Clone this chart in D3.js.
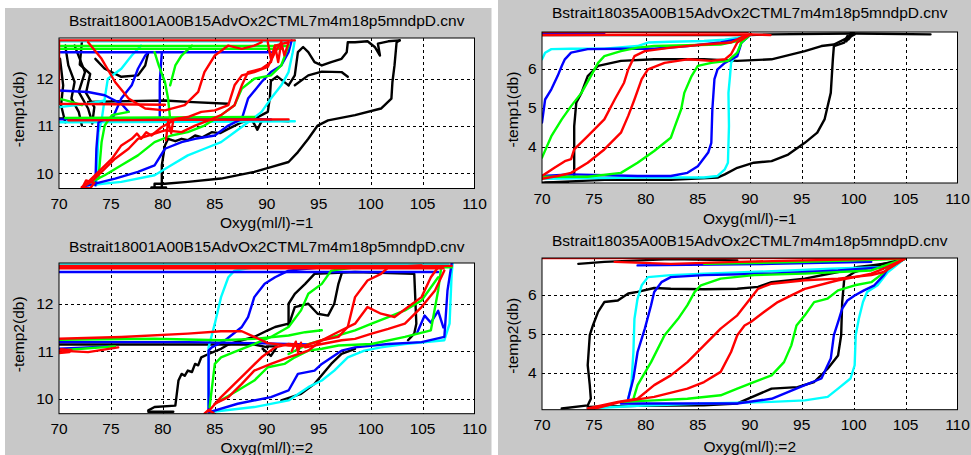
<!DOCTYPE html>
<html>
<head>
<meta charset="utf-8">
<script src="https://cdn.jsdelivr.net/npm/d3@7"></script>
<style>
  body { margin: 0; background: #fff; }
  svg text { font-family: "Liberation Sans", Arial, sans-serif; font-size: 15.5px; fill: #000; }
</style>
</head>
<body>
<svg id="chart" width="971" height="455"></svg>
<script>
// ---- axis ticks and labels ----
const oxyTicks = [70, 75, 80, 85, 90, 95, 100, 105, 110];
const tempTicks18001 = [10, 11, 12];
const tempTicks18035 = [4, 5, 6];
const castTitles = ["Bstrait18001A00B15AdvOx2CTML7m4m18p5mndpD.cnv",
                    "Bstrait18035A00B15AdvOx2CTML7m4m18p5mndpD.cnv"];
const oxyLabels = ["Oxyg(ml/l)-=1", "Oxyg(ml/l):=2"];
const tempLabels = ["-temp1(db)", "-temp2(db)"];

// ---- profiles: [series colour code, [[oxygen, -temp], ...]] ----
// cast 18001, sensor pair 1
const profiles18001s1 = [
  ['k', [[70.6,12.70],[70.9,12.28],[71.5,11.93],[71.2,11.58],[71.9,11.30],[72.2,11.01]]],
  ['k', [[71.5,12.70],[72.5,12.14],[71.9,11.72],[72.8,11.37],[73.1,11.15]]],
  ['k', [[70.1,12.42],[70.4,11.86],[70.2,11.44],[70.6,11.08]]],
  ['k', [[72.2,12.77],[72.0,12.30],[73.0,12.10],[72.6,11.70],[73.4,11.40],[73.2,11.05]]],
  ['k', [[70.0,11.16],[79.2,11.16],[88.8,11.15],[92.1,11.10]]],
  ['k', [[72.8,11.51],[80.2,11.54],[82.4,11.51],[86.3,11.47]]],
  ['k', [[73.5,12.42],[74.4,12.21],[76.0,12.04],[77.6,12.07],[78.3,12.28],[78.6,12.56]]],
  ['k', [[79.2,9.71],[79.2,9.78],[80.2,9.78],[82.4,9.82],[85.6,9.89],[88.8,10.03],[90.4,10.13],[92.1,10.24],[93.0,10.45],[94.0,10.73],[94.9,11.01],[95.9,11.12],[98.5,11.23],[101.0,11.37],[102.0,11.58],[102.1,11.93],[102.3,12.28],[102.5,12.77],[102.8,12.81]]],
  ['k', [[79.9,9.68],[79.9,10.17],[80.2,10.59],[80.5,10.73],[81.2,10.68],[81.8,10.73],[82.4,10.70],[83.1,10.80],[83.8,10.76],[84.7,10.87],[85.5,10.85],[86.3,10.94],[87.6,11.08],[88.8,11.15],[90.1,11.30],[90.3,11.60],[90.4,11.95],[91.0,12.05],[92.1,11.86]]],
  ['k', [[92.1,11.86],[92.7,12.07],[93.0,12.56],[93.5,12.67],[94.0,12.56],[94.6,12.35],[95.3,12.28],[96.2,12.35],[97.2,12.42],[97.7,12.56],[97.8,12.77],[98.5,12.77],[99.7,12.79],[100.4,12.67],[100.9,12.49],[100.7,12.74],[101.7,12.79],[102.8,12.81]]],
  ['k', [[92.7,11.86],[94.0,12.07],[95.3,12.15],[97.2,12.14],[97.8,12.04]]],
  ['k', [[78.9,9.70],[80.3,9.70]]],
  ['k', [[88.6,11.12],[89.1,10.92],[89.5,11.10]]],
  ['c', [[70.0,12.79],[92.1,12.79]]],
  ['c', [[70.0,11.08],[92.7,11.10]]],
  ['c', [[72.8,9.75],[76.0,9.82],[79.2,9.96],[80.8,10.17],[82.4,10.38],[84.0,10.52],[85.6,10.66],[86.9,10.87],[88.2,11.08],[89.5,11.30],[90.4,11.58],[91.4,11.86],[92.1,12.14],[92.5,12.56],[92.7,12.81]]],
  ['c', [[73.6,9.75],[73.8,10.87],[74.1,11.12],[74.4,11.58],[74.7,12.00],[76.0,12.21],[77.0,12.49],[77.9,12.70]]],
  ['c', [[70.0,11.40],[72.8,11.47],[74.4,11.54]]],
  ['b', [[70.0,12.56],[90.4,12.56]]],
  ['b', [[70.0,11.14],[90.4,11.14]]],
  ['b', [[72.5,9.73],[75.4,9.89],[77.6,10.03],[79.2,10.17],[80.2,10.52],[81.8,10.66],[83.1,10.73],[85.0,10.80],[86.3,11.01],[87.6,11.15],[88.2,11.58],[89.5,11.93],[90.4,12.14],[91.4,12.28],[92.1,12.56],[92.4,12.81]]],
  ['b', [[73.5,9.75],[73.6,10.52],[73.8,11.08],[74.4,11.14],[75.1,11.14],[76.0,11.58],[77.0,11.86],[77.6,12.21],[78.3,12.49],[78.6,12.56]]],
  ['b', [[79.7,11.14],[79.7,11.93],[79.9,12.56]]],
  ['b', [[70.0,11.75],[72.8,11.72],[74.4,11.65],[76.0,11.47],[76.7,11.30]]],
  ['g', [[70.0,12.69],[92.1,12.69]]],
  ['g', [[70.0,12.63],[91.4,12.63]]],
  ['g', [[70.6,11.17],[88.8,11.19]]],
  ['g', [[72.5,9.75],[74.4,9.96],[76.0,10.17],[77.6,10.38],[79.2,10.66],[80.8,10.80],[82.4,10.87],[84.0,11.01],[85.6,11.23],[86.9,11.44],[87.6,11.79],[88.8,12.00],[90.4,12.07],[91.4,12.28],[92.1,12.70]]],
  ['g', [[73.8,9.89],[74.1,10.66],[74.4,11.01],[75.1,11.23],[76.7,11.30]]],
  ['g', [[79.2,12.56],[79.6,12.28],[80.2,11.93],[80.5,11.58],[80.7,11.15]]],
  ['g', [[80.7,11.86],[81.2,12.28],[81.8,12.49],[82.8,12.70]]],
  ['g', [[70.0,11.58],[71.2,11.51],[72.2,11.44]]],
  ['r', [[92.7,12.81],[70.0,12.81],[70.0,11.47],[80.2,11.45]]],
  ['r', [[70.9,11.12],[92.1,11.14]]],
  ['r', [[72.2,9.71],[73.1,9.82],[74.1,10.03],[75.4,10.31],[76.7,10.52],[77.6,10.73],[78.6,10.80],[80.2,10.91],[81.8,10.87],[83.1,11.01],[84.4,11.12],[85.6,11.23],[86.9,11.44],[87.6,11.86],[88.2,12.14],[89.5,12.21],[90.4,12.35],[90.8,12.70],[92.1,12.77]]],
  ['r', [[72.5,9.75],[73.8,10.03],[75.1,10.31],[76.0,10.59],[77.0,10.73],[77.5,10.84],[77.9,10.73],[78.4,10.87],[78.9,10.80],[79.9,10.98],[80.5,11.05],[81.2,11.15],[82.4,11.19],[83.7,11.30],[85.0,11.33],[86.3,11.44],[86.9,11.86],[87.6,12.07],[88.8,12.14],[90.1,12.25],[90.8,12.56],[91.4,12.77]]],
  ['r', [[72.8,12.77],[74.1,12.42],[75.4,11.93],[76.7,11.58],[78.3,11.37],[80.2,11.33],[82.1,11.44],[83.4,11.72],[84.0,12.14],[85.0,12.49],[86.3,12.70],[87.6,12.63],[88.8,12.70],[89.5,12.77]]],
  ['r', [[90.1,12.77],[90.4,12.42],[90.8,12.70],[91.1,12.35],[91.4,12.77],[91.7,12.49],[92.1,12.77]]],
  ['r', [[80.3,10.70],[80.5,11.10],[80.8,10.85],[81.0,11.12]]],
  ['r', [[72.2,9.70],[73.0,9.68],[73.4,9.80],[72.6,9.85],[72.3,9.72]]]
];

// cast 18001, sensor pair 2
const profiles18001s2 = [
  ['k', [[70.0,11.14],[79.2,11.14],[88.8,11.14],[90.1,11.08]]],
  ['k', [[78.6,9.75],[79.2,9.82],[81.2,9.85],[81.5,10.38],[81.8,10.52],[82.1,10.48],[82.4,10.59],[82.8,10.56],[83.1,10.73],[83.4,10.70],[83.7,10.87],[84.4,10.94],[85.6,11.05],[86.3,11.14],[87.6,11.23],[88.8,11.30],[90.1,11.44],[90.8,11.51],[92.1,11.58],[92.1,12.00],[92.7,12.21],[93.7,12.42],[94.6,12.63],[98.5,12.67],[104.2,12.63],[104.4,11.58],[104.2,11.37],[103.6,11.23]]],
  ['k', [[92.1,11.54],[92.7,11.93],[94.0,12.00],[94.9,11.79],[95.9,11.75],[96.5,12.00],[96.9,12.42],[97.2,12.63]]],
  ['k', [[91.4,9.96],[93.3,10.10],[94.6,10.31],[96.2,10.73],[97.2,10.94],[98.5,11.05]]],
  ['k', [[89.6,11.05],[90.4,10.90],[91.0,11.10],[90.0,11.10]]],
  ['k', [[78.6,9.72],[81.0,9.72]]],
  ['c', [[70.0,12.83],[107.5,12.83]]],
  ['c', [[84.4,9.75],[84.4,11.08],[85.0,11.58],[85.6,12.14],[86.3,12.56],[86.9,12.70],[88.8,12.77],[95.3,12.81]]],
  ['c', [[84.4,9.71],[88.8,9.82],[92.1,9.96],[94.0,10.24],[95.3,10.38],[96.5,10.59],[97.8,10.87],[99.4,11.01],[101.0,11.08],[103.3,11.15],[107.1,11.23],[107.6,11.58],[107.8,12.63],[107.9,12.85]]],
  ['b', [[70.0,12.67],[106.5,12.67]]],
  ['b', [[70.0,11.19],[82.4,11.19],[88.8,11.17],[94.0,11.14]]],
  ['b', [[70.0,11.05],[72.8,11.08],[74.7,11.10]]],
  ['b', [[84.4,9.75],[84.4,11.01],[84.7,11.08],[86.0,11.23],[87.6,11.51],[88.2,11.72],[88.8,12.14],[89.8,12.42],[90.8,12.56],[92.1,12.70],[95.3,12.77]]],
  ['b', [[84.4,9.71],[87.2,9.89],[90.4,10.03],[92.1,10.17],[93.0,10.52],[94.6,10.59],[95.3,10.73],[97.2,11.01],[98.5,11.08],[101.7,11.15],[104.9,11.19],[107.1,11.30],[107.4,12.28],[107.8,12.85]]],
  ['b', [[104.5,11.40],[105.2,11.75],[105.8,11.60],[106.5,11.85],[107.0,11.50]]],
  ['g', [[70.0,12.77],[107.8,12.77]]],
  ['g', [[70.0,11.24],[79.2,11.26],[85.6,11.23],[88.8,11.26],[92.1,11.33],[93.7,11.40],[95.3,11.44]]],
  ['g', [[70.9,11.03],[75.4,11.10]]],
  ['g', [[84.5,9.82],[85.0,10.73],[85.6,10.87],[87.2,11.01],[88.8,11.15],[90.4,11.30],[92.1,11.51],[93.3,11.86],[94.0,12.21],[95.3,12.42],[96.2,12.70],[98.5,12.77]]],
  ['g', [[85.0,9.89],[87.2,10.17],[88.8,10.38],[90.1,10.66],[91.7,10.73],[92.7,10.87],[94.0,11.01],[95.3,11.05],[96.9,11.12],[100.1,11.15],[103.3,11.30],[105.8,11.44],[106.5,12.28],[106.8,12.77]]],
  ['g', [[92.1,10.94],[94.0,11.15],[95.3,11.23],[98.5,11.44],[100.1,11.58],[101.7,11.72],[103.3,11.86],[104.9,12.07],[106.5,12.56]]],
  ['r', [[70.0,12.80],[107.8,12.80]]],
  ['r', [[70.0,12.75],[107.0,12.75]]],
  ['r', [[70.0,11.26],[76.0,11.30],[82.4,11.37],[85.6,11.42],[87.6,11.42],[88.8,11.30],[90.1,11.17],[92.1,11.12],[94.0,11.10]]],
  ['r', [[70.0,11.01],[72.8,10.98],[75.7,11.08]]],
  ['r', [[70.0,10.96],[71.0,10.98],[70.2,11.04],[71.2,11.02]]],
  ['r', [[84.4,9.73],[85.6,10.03],[86.9,10.31],[88.2,10.59],[89.5,10.87],[90.8,11.08],[92.1,11.15],[93.7,11.12],[95.3,11.23],[96.9,11.30],[97.8,11.51],[98.5,12.14],[99.7,12.49],[101.0,12.63],[101.7,12.77],[104.9,12.81]]],
  ['r', [[85.0,9.89],[86.3,10.03],[87.6,10.31],[88.8,10.59],[90.4,10.73],[92.1,10.87],[94.0,11.01],[95.3,11.23],[97.2,11.44],[98.5,11.58],[99.7,11.93],[101.0,11.79],[102.3,11.72],[103.6,11.93],[104.9,12.14],[105.8,12.56],[106.5,12.77]]],
  ['r', [[93.7,11.08],[95.3,11.15],[97.2,11.23],[98.5,11.26],[100.1,11.37],[101.7,11.47],[103.3,11.58],[104.9,11.93],[106.2,12.28],[107.1,12.70]]],
  ['r', [[84.0,9.68],[84.4,9.76],[84.9,9.69]]],
  ['r', [[92.4,11.00],[92.8,11.20],[93.0,10.98],[93.3,11.18]]]
];

// cast 18035, sensor pair 1
const profiles18035s1 = [
  ['k', [[70.3,3.08],[72.5,3.09]]],
  ['k', [[70.0,6.86],[90.0,6.86],[92.0,6.88],[100.0,6.90],[107.4,6.88]]],
  ['k', [[73.1,3.21],[73.1,3.68],[73.1,4.53],[73.3,5.13],[73.8,5.38],[74.4,5.81],[75.4,6.07],[77.6,6.20],[80.8,6.24],[85.6,6.24],[88.8,6.20],[92.1,6.24],[95.3,6.45],[96.9,6.58],[98.1,6.62],[99.4,6.79],[100.1,6.88]]],
  ['k', [[70.0,3.08],[76.0,3.15],[82.4,3.15],[86.9,3.21],[87.6,3.29],[88.8,3.46],[90.4,3.59],[92.1,3.63],[93.7,3.80],[95.3,4.10],[96.5,4.36],[97.2,4.70],[97.8,5.38],[98.0,6.24],[98.1,6.58],[99.1,6.67],[99.4,6.84]]],
  ['k', [[99.3,6.70],[99.8,6.95],[99.5,6.75],[100.0,6.92]]],
  ['c', [[70.0,6.24],[70.3,6.41],[70.9,6.50],[72.8,6.51],[76.0,6.51],[79.2,6.58],[80.2,6.67],[82.4,6.69],[85.6,6.71],[87.6,6.74],[88.8,6.79],[90.1,6.88]]],
  ['c', [[70.0,3.18],[79.2,3.21],[85.6,3.21],[86.9,3.25],[87.6,3.42],[87.9,3.59],[88.0,4.53],[87.95,5.38],[88.1,5.81],[88.2,6.15],[88.8,6.41],[89.2,6.67],[90.1,6.88]]],
  ['b', [[70.0,6.90],[76.0,6.89]]],
  ['b', [[70.0,4.62],[70.3,5.21],[70.9,5.47],[71.5,5.81],[71.9,6.07],[72.2,6.24],[72.8,6.41],[74.4,6.50],[77.6,6.51],[80.8,6.51],[84.0,6.58],[87.2,6.67],[88.8,6.75],[90.1,6.88]]],
  ['b', [[70.0,3.25],[72.8,3.29],[79.2,3.25],[82.4,3.25],[84.0,3.33],[85.0,3.50],[86.0,3.85],[86.3,4.10],[86.4,4.96],[86.6,5.73],[86.9,5.98],[87.6,6.15],[88.8,6.32],[89.2,6.67],[90.1,6.88]]],
  ['g', [[70.0,3.72],[70.9,4.27],[71.9,4.70],[72.8,5.04],[73.8,5.38],[74.7,5.81],[75.4,6.15],[76.0,6.32],[77.6,6.45],[79.2,6.54],[80.8,6.58],[84.0,6.60],[87.2,6.62],[88.8,6.71],[90.1,6.88]]],
  ['g', [[70.0,3.23],[74.4,3.23],[77.6,3.33],[79.2,3.59],[80.8,3.89],[82.4,4.23],[82.8,4.53],[83.4,4.96],[83.7,5.38],[84.4,5.81],[85.0,6.07],[86.3,6.15],[87.9,6.20],[88.8,6.41],[89.2,6.67],[90.1,6.88]]],
  ['r', [[70.0,3.25],[71.2,3.46],[72.2,3.63],[72.8,3.68],[73.1,3.93],[74.4,4.27],[76.0,4.70],[77.0,5.21],[77.9,5.64],[78.3,5.98],[78.9,6.32],[79.9,6.45],[82.4,6.54],[85.6,6.62],[88.2,6.67],[89.5,6.84],[90.1,6.88]]],
  ['r', [[70.0,3.18],[71.5,3.25],[72.8,3.33],[74.4,3.59],[76.0,3.93],[77.6,4.36],[78.3,4.79],[78.9,5.21],[79.6,5.73],[80.2,5.98],[81.8,6.15],[84.0,6.24],[86.3,6.20],[87.6,6.24],[88.2,6.37],[88.8,6.67],[90.1,6.88]]],
  ['r', [[70.0,6.94],[89.8,6.94]]],
  ['r', [[70.0,6.86],[90.1,6.88],[92.0,6.86]]]
];

// cast 18035, sensor pair 2
const profiles18035s2 = [
  ['k', [[73.5,6.79],[76.0,6.84],[82.4,6.91],[88.8,6.88]]],
  ['k', [[71.9,3.08],[74.4,3.16],[74.7,3.33],[74.6,3.68],[74.4,4.19],[74.6,4.96],[74.9,5.21],[75.4,5.56],[76.0,5.81],[77.3,5.85],[78.3,6.03],[79.2,6.07],[80.8,6.17],[82.4,6.15],[85.6,6.14],[88.8,6.15],[90.8,6.20],[92.1,6.32],[95.3,6.41],[98.5,6.58],[100.4,6.71],[101.7,6.75],[104.2,6.84],[104.9,6.92]]],
  ['k', [[74.4,3.12],[79.2,3.15],[85.6,3.16],[88.8,3.21],[92.1,3.59],[94.6,3.63],[96.2,3.76],[97.5,4.10],[98.5,4.44],[98.8,4.96],[98.9,5.81],[99.1,6.41],[100.1,6.58],[101.7,6.71],[104.9,6.92]]],
  ['c', [[78.3,3.33],[78.6,3.68],[78.8,4.53],[78.9,5.38],[79.2,5.90],[79.6,6.24],[80.2,6.45],[82.4,6.50],[85.6,6.54],[92.1,6.60],[98.5,6.67],[103.3,6.71],[104.9,6.92]]],
  ['c', [[74.4,3.08],[79.2,3.15],[85.6,3.21],[92.1,3.25],[95.3,3.29],[97.5,3.38],[98.5,3.59],[99.7,3.85],[100.1,4.19],[100.2,4.96],[100.5,5.38],[100.9,5.81],[101.3,6.07],[102.3,6.24],[103.3,6.58],[104.9,6.92]]],
  ['b', [[79.2,6.75],[92.1,6.79],[101.7,6.84]]],
  ['b', [[78.3,3.33],[78.8,3.85],[79.2,4.53],[79.9,5.13],[80.5,5.73],[80.8,6.07],[81.5,6.32],[82.4,6.45],[85.6,6.50],[92.1,6.54],[98.5,6.62],[103.3,6.71],[104.9,6.92]]],
  ['b', [[77.6,3.21],[82.4,3.21],[88.8,3.21],[92.1,3.33],[95.3,3.68],[96.9,3.85],[97.8,4.36],[98.1,4.96],[98.6,5.38],[98.9,5.64],[99.4,5.85],[100.1,5.98],[101.0,6.11],[102.0,6.24],[102.9,6.50],[103.3,6.67],[104.9,6.92]]],
  ['g', [[85.6,6.79],[95.3,6.84],[104.9,6.92]]],
  ['g', [[78.8,3.33],[79.2,3.68],[80.5,4.27],[81.8,4.96],[83.1,5.38],[84.0,5.73],[84.7,6.07],[85.3,6.24],[87.2,6.41],[90.4,6.50],[95.3,6.54],[101.7,6.62],[104.9,6.92]]],
  ['g', [[77.6,3.25],[80.8,3.29],[84.0,3.33],[87.2,3.42],[88.8,3.59],[90.4,3.76],[92.1,3.93],[93.3,4.27],[94.0,4.70],[94.5,5.21],[95.3,5.47],[96.2,5.81],[97.5,5.90],[98.5,6.11],[100.1,6.24],[101.7,6.32],[102.6,6.50],[103.3,6.67],[104.9,6.92]]],
  ['r', [[70.0,6.94],[104.9,6.94]]],
  ['r', [[77.0,6.84],[82.4,6.79],[88.8,6.84],[95.3,6.88],[104.9,6.93]]],
  ['r', [[74.4,3.08],[77.3,3.25],[79.2,3.33],[80.8,3.68],[82.4,3.93],[84.0,4.27],[85.6,4.70],[87.2,5.13],[88.8,5.47],[89.8,5.81],[90.8,6.15],[92.1,6.28],[95.3,6.37],[98.5,6.41],[101.7,6.50],[102.9,6.58],[104.9,6.92]]],
  ['r', [[74.4,3.03],[77.6,3.25],[80.8,3.38],[84.0,3.59],[85.6,3.76],[87.2,4.02],[88.2,4.53],[88.8,4.96],[89.5,5.21],[90.1,5.30],[91.4,5.56],[92.7,5.81],[94.0,5.98],[95.3,6.15],[98.5,6.37],[100.1,6.45],[101.7,6.54],[102.9,6.67],[104.9,6.92]]]
];

// ---- layout ----
const seriesColour = { k: "#000000", b: "#0000ff", g: "#00ff00", r: "#ff0000", c: "#00ffff" };
const panels = [
  { traces: profiles18001s1, title: castTitles[0], xlab: oxyLabels[0], ylab: tempLabels[0],
    yDomain: [9.68, 12.86], yTicks: tempTicks18001, box: [59, 38, 474.5, 188.5],
    titleY: 26, tickY: 209, xlabY: 228, ylabX: 24, ylabDy: -4 },
  { traces: profiles18001s2, title: castTitles[0], xlab: oxyLabels[1], ylab: tempLabels[1],
    yDomain: [9.68, 12.86], yTicks: tempTicks18001, box: [59, 263, 474.5, 413.7],
    titleY: 251.5, tickY: 434, xlabY: 453, ylabX: 24, ylabDy: -4 },
  { traces: profiles18035s1, title: castTitles[1], xlab: oxyLabels[0], ylab: tempLabels[0],
    yDomain: [3.07, 6.94], yTicks: tempTicks18035, box: [542, 32, 957.5, 183],
    titleY: 18.3, tickY: 204, xlabY: 224, ylabX: 518, ylabDy: 2 },
  { traces: profiles18035s2, title: castTitles[1], xlab: oxyLabels[1], ylab: tempLabels[1],
    yDomain: [3.05, 6.94], yTicks: tempTicks18035, box: [542, 258, 957.5, 409.7],
    titleY: 245.5, tickY: 430, xlabY: 452, ylabX: 518, ylabDy: 2 }
];

const svg = d3.select("#chart");

// figure backgrounds
svg.append("rect").attr("x", 5).attr("y", 8).attr("width", 486.5).attr("height", 447).attr("fill", "#c8c8c8");
svg.append("rect").attr("x", 498).attr("y", 0).attr("width", 473).attr("height", 455).attr("fill", "#c8c8c8");

panels.forEach((p, i) => {
  const [x0, y0, x1, y1] = p.box;
  const x = d3.scaleLinear().domain([70, 110]).range([x0, x1]);
  const y = d3.scaleLinear().domain(p.yDomain).range([y1, y0]);
  const g = svg.append("g");

  const clipId = "clip" + i;
  g.append("clipPath").attr("id", clipId)
    .append("rect").attr("x", x0).attr("y", y0).attr("width", x1 - x0).attr("height", y1 - y0);

  g.append("rect").attr("x", x0).attr("y", y0).attr("width", x1 - x0).attr("height", y1 - y0).attr("fill", "#fff");

  // dotted grid
  const grid = g.append("g").attr("stroke", "#000").attr("stroke-width", 1).attr("stroke-dasharray", "3,3");
  oxyTicks.slice(1, -1).forEach(t => {
    grid.append("line").attr("x1", Math.round(x(t)) + 0.5).attr("x2", Math.round(x(t)) + 0.5).attr("y1", y0).attr("y2", y1);
  });
  p.yTicks.forEach(t => {
    grid.append("line").attr("x1", x0).attr("x2", x1).attr("y1", Math.round(y(t)) + 0.5).attr("y2", Math.round(y(t)) + 0.5);
  });

  // profiles
  const line = d3.line().x(d => x(d[0])).y(d => y(d[1]));
  const plot = g.append("g").attr("clip-path", `url(#${clipId})`);
  plot.selectAll("path").data(p.traces).join("path")
    .attr("d", d => line(d[1]))
    .attr("fill", "none")
    .attr("stroke", d => seriesColour[d[0]])
    .attr("stroke-width", 2.4)
    .attr("stroke-linejoin", "round")
    .attr("stroke-linecap", "round");

  // axes box
  g.append("rect").attr("x", x0).attr("y", y0).attr("width", x1 - x0).attr("height", y1 - y0)
    .attr("fill", "none").attr("stroke", "#000").attr("stroke-width", 1);

  // tick labels
  g.selectAll("text.xt").data(oxyTicks).join("text").attr("class", "xt")
    .attr("x", d => x(d)).attr("y", p.tickY).attr("text-anchor", "middle").text(d => d);
  g.selectAll("text.yt").data(p.yTicks).join("text").attr("class", "yt")
    .attr("x", x0 - 5.5).attr("y", d => y(d) + 5.4).attr("text-anchor", "end").text(d => d);

  // titles and axis labels
  const cx = (x0 + x1) / 2, cy = (y0 + y1) / 2;
  g.append("text").attr("x", cx).attr("y", p.titleY).attr("text-anchor", "middle").text(p.title);
  g.append("text").attr("x", cx).attr("y", p.xlabY).attr("text-anchor", "middle").text(p.xlab);
  g.append("text").attr("transform", `translate(${p.ylabX},${cy + p.ylabDy}) rotate(-90)`)
    .attr("text-anchor", "middle").text(p.ylab);
});
</script>
</body>
</html>
